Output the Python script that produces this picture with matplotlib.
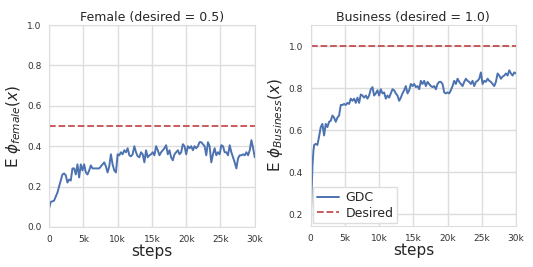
import numpy as np
import matplotlib
matplotlib.use("Agg")
import matplotlib.pyplot as plt
import seaborn as sns

sns.set_style("whitegrid")
plt.rcParams['font.family'] = ['DejaVu Sans']
plt.rcParams['mathtext.fontset'] = 'dejavusans'

female_values = [0.091, 0.124, 0.127, 0.13, 0.15, 0.17, 0.2, 0.23, 0.26, 0.265, 0.256, 0.22, 0.235,
                 0.23, 0.29, 0.29, 0.26, 0.31, 0.245, 0.31, 0.28, 0.31, 0.27, 0.26, 0.28, 0.305,
                 0.29, 0.29, 0.29, 0.29, 0.29, 0.30, 0.31, 0.32, 0.30, 0.27, 0.30, 0.36, 0.31,
                 0.28, 0.27, 0.36, 0.355, 0.37, 0.36, 0.38, 0.37, 0.39, 0.355, 0.35, 0.36, 0.40,
                 0.37, 0.35, 0.345, 0.37, 0.36, 0.32, 0.38, 0.345, 0.355, 0.36, 0.37, 0.355, 0.40,
                 0.38, 0.355, 0.37, 0.38, 0.39, 0.405, 0.36, 0.38, 0.345, 0.33, 0.36, 0.37, 0.38,
                 0.36, 0.37, 0.41, 0.40, 0.36, 0.40, 0.39, 0.40, 0.38, 0.40, 0.39, 0.40, 0.42,
                 0.42, 0.41, 0.40, 0.355, 0.42, 0.40, 0.32, 0.36, 0.39, 0.355, 0.37, 0.36, 0.405,
                 0.40, 0.37, 0.37, 0.355, 0.405, 0.37, 0.345, 0.32, 0.29, 0.34, 0.355, 0.355,
                 0.36, 0.355, 0.37, 0.355, 0.38, 0.43, 0.39, 0.345]

business_start_steps = [0, 150, 250, 400, 500]
business_start_values = [0.18, 0.33, 0.43, 0.505, 0.53]
business_values = [0.535, 0.53, 0.57, 0.615, 0.63, 0.575, 0.63, 0.615, 0.64, 0.645, 0.67, 0.66,
                   0.64, 0.66, 0.67, 0.72, 0.72, 0.725, 0.72, 0.73, 0.725, 0.75, 0.74, 0.75, 0.73,
                   0.755, 0.73, 0.77, 0.765, 0.755, 0.765, 0.75, 0.765, 0.795, 0.805, 0.765, 0.775,
                   0.79, 0.765, 0.795, 0.775, 0.78, 0.75, 0.765, 0.755, 0.775, 0.795, 0.79, 0.775,
                   0.765, 0.74, 0.755, 0.775, 0.79, 0.81, 0.775, 0.79, 0.82, 0.81, 0.82, 0.805,
                   0.81, 0.795, 0.835, 0.82, 0.835, 0.81, 0.83, 0.82, 0.81, 0.805, 0.81, 0.795,
                   0.82, 0.83, 0.83, 0.82, 0.78, 0.775, 0.78, 0.775, 0.79, 0.81, 0.835, 0.82, 0.845,
                   0.83, 0.82, 0.81, 0.83, 0.845, 0.835, 0.83, 0.82, 0.835, 0.81, 0.83, 0.835, 0.845,
                   0.875, 0.82, 0.835, 0.83, 0.845, 0.835, 0.83, 0.82, 0.81, 0.83, 0.87, 0.86, 0.845,
                   0.855, 0.86, 0.87, 0.86, 0.885, 0.87, 0.86, 0.875, 0.87]

female_desired = 0.5
business_desired = 1.0
xticks = [0, 5000, 10000, 15000, 20000, 25000, 30000]
xtick_labels = ["0", "5k", "10k", "15k", "20k", "25k", "30k"]

female_steps = np.linspace(0, 30000, len(female_values))
business_steps = np.concatenate([business_start_steps,
                                 np.linspace(730, 30000, len(business_values))])
business_all = business_start_values + business_values

blue = "#4c72b0"
red = "#c44e52"

fig = plt.figure(figsize=(5.33, 2.67), dpi=100)
ax1 = fig.add_axes([0.092, 0.15, 0.386, 0.756])
ax2 = fig.add_axes([0.583, 0.154, 0.385, 0.752])

for ax in (ax1, ax2):
    ax.set_xlim(0, 30000)
    ax.set_xticks(xticks)
    ax.set_xticklabels(xtick_labels)
    ax.tick_params(labelsize=6.5, pad=2, colors="#333333")
    ax.grid(True, color="#dddddd", linewidth=1.0)
    for s in ax.spines.values():
        s.set_color("#dddddd")
    ax.set_xlabel("steps", fontsize=11, labelpad=0)

ax1.plot(female_steps, female_values, color=blue, lw=1.4)
ax1.axhline(female_desired, color=red, ls="--", lw=1.3)
ax1.set_ylim(0, 1.0)
ax1.set_yticks([0.0, 0.2, 0.4, 0.6, 0.8, 1.0])
ax1.set_title("Female (desired = 0.5)", fontsize=9, pad=3)
ax1.set_ylabel(r"E $\phi_{female}(x)$", fontsize=11, labelpad=3)

ax2.plot(business_steps, business_all, color=blue, lw=1.4, label="GDC")
ax2.axhline(business_desired, color=red, ls="--", lw=1.3, label="Desired")
ax2.set_ylim(0.145, 1.1)
ax2.set_yticks([0.2, 0.4, 0.6, 0.8, 1.0])
ax2.set_title("Business (desired = 1.0)", fontsize=9, pad=3)
ax2.set_ylabel(r"E $\phi_{Business}(x)$", fontsize=11, labelpad=3)
ax2.legend(loc="lower left", fontsize=9, borderaxespad=0.2, handlelength=1.8,
           borderpad=0.3, labelspacing=0.2, handletextpad=0.5, framealpha=1,
           fancybox=False, edgecolor="#dddddd")

fig.savefig("out.png", dpi=100)
